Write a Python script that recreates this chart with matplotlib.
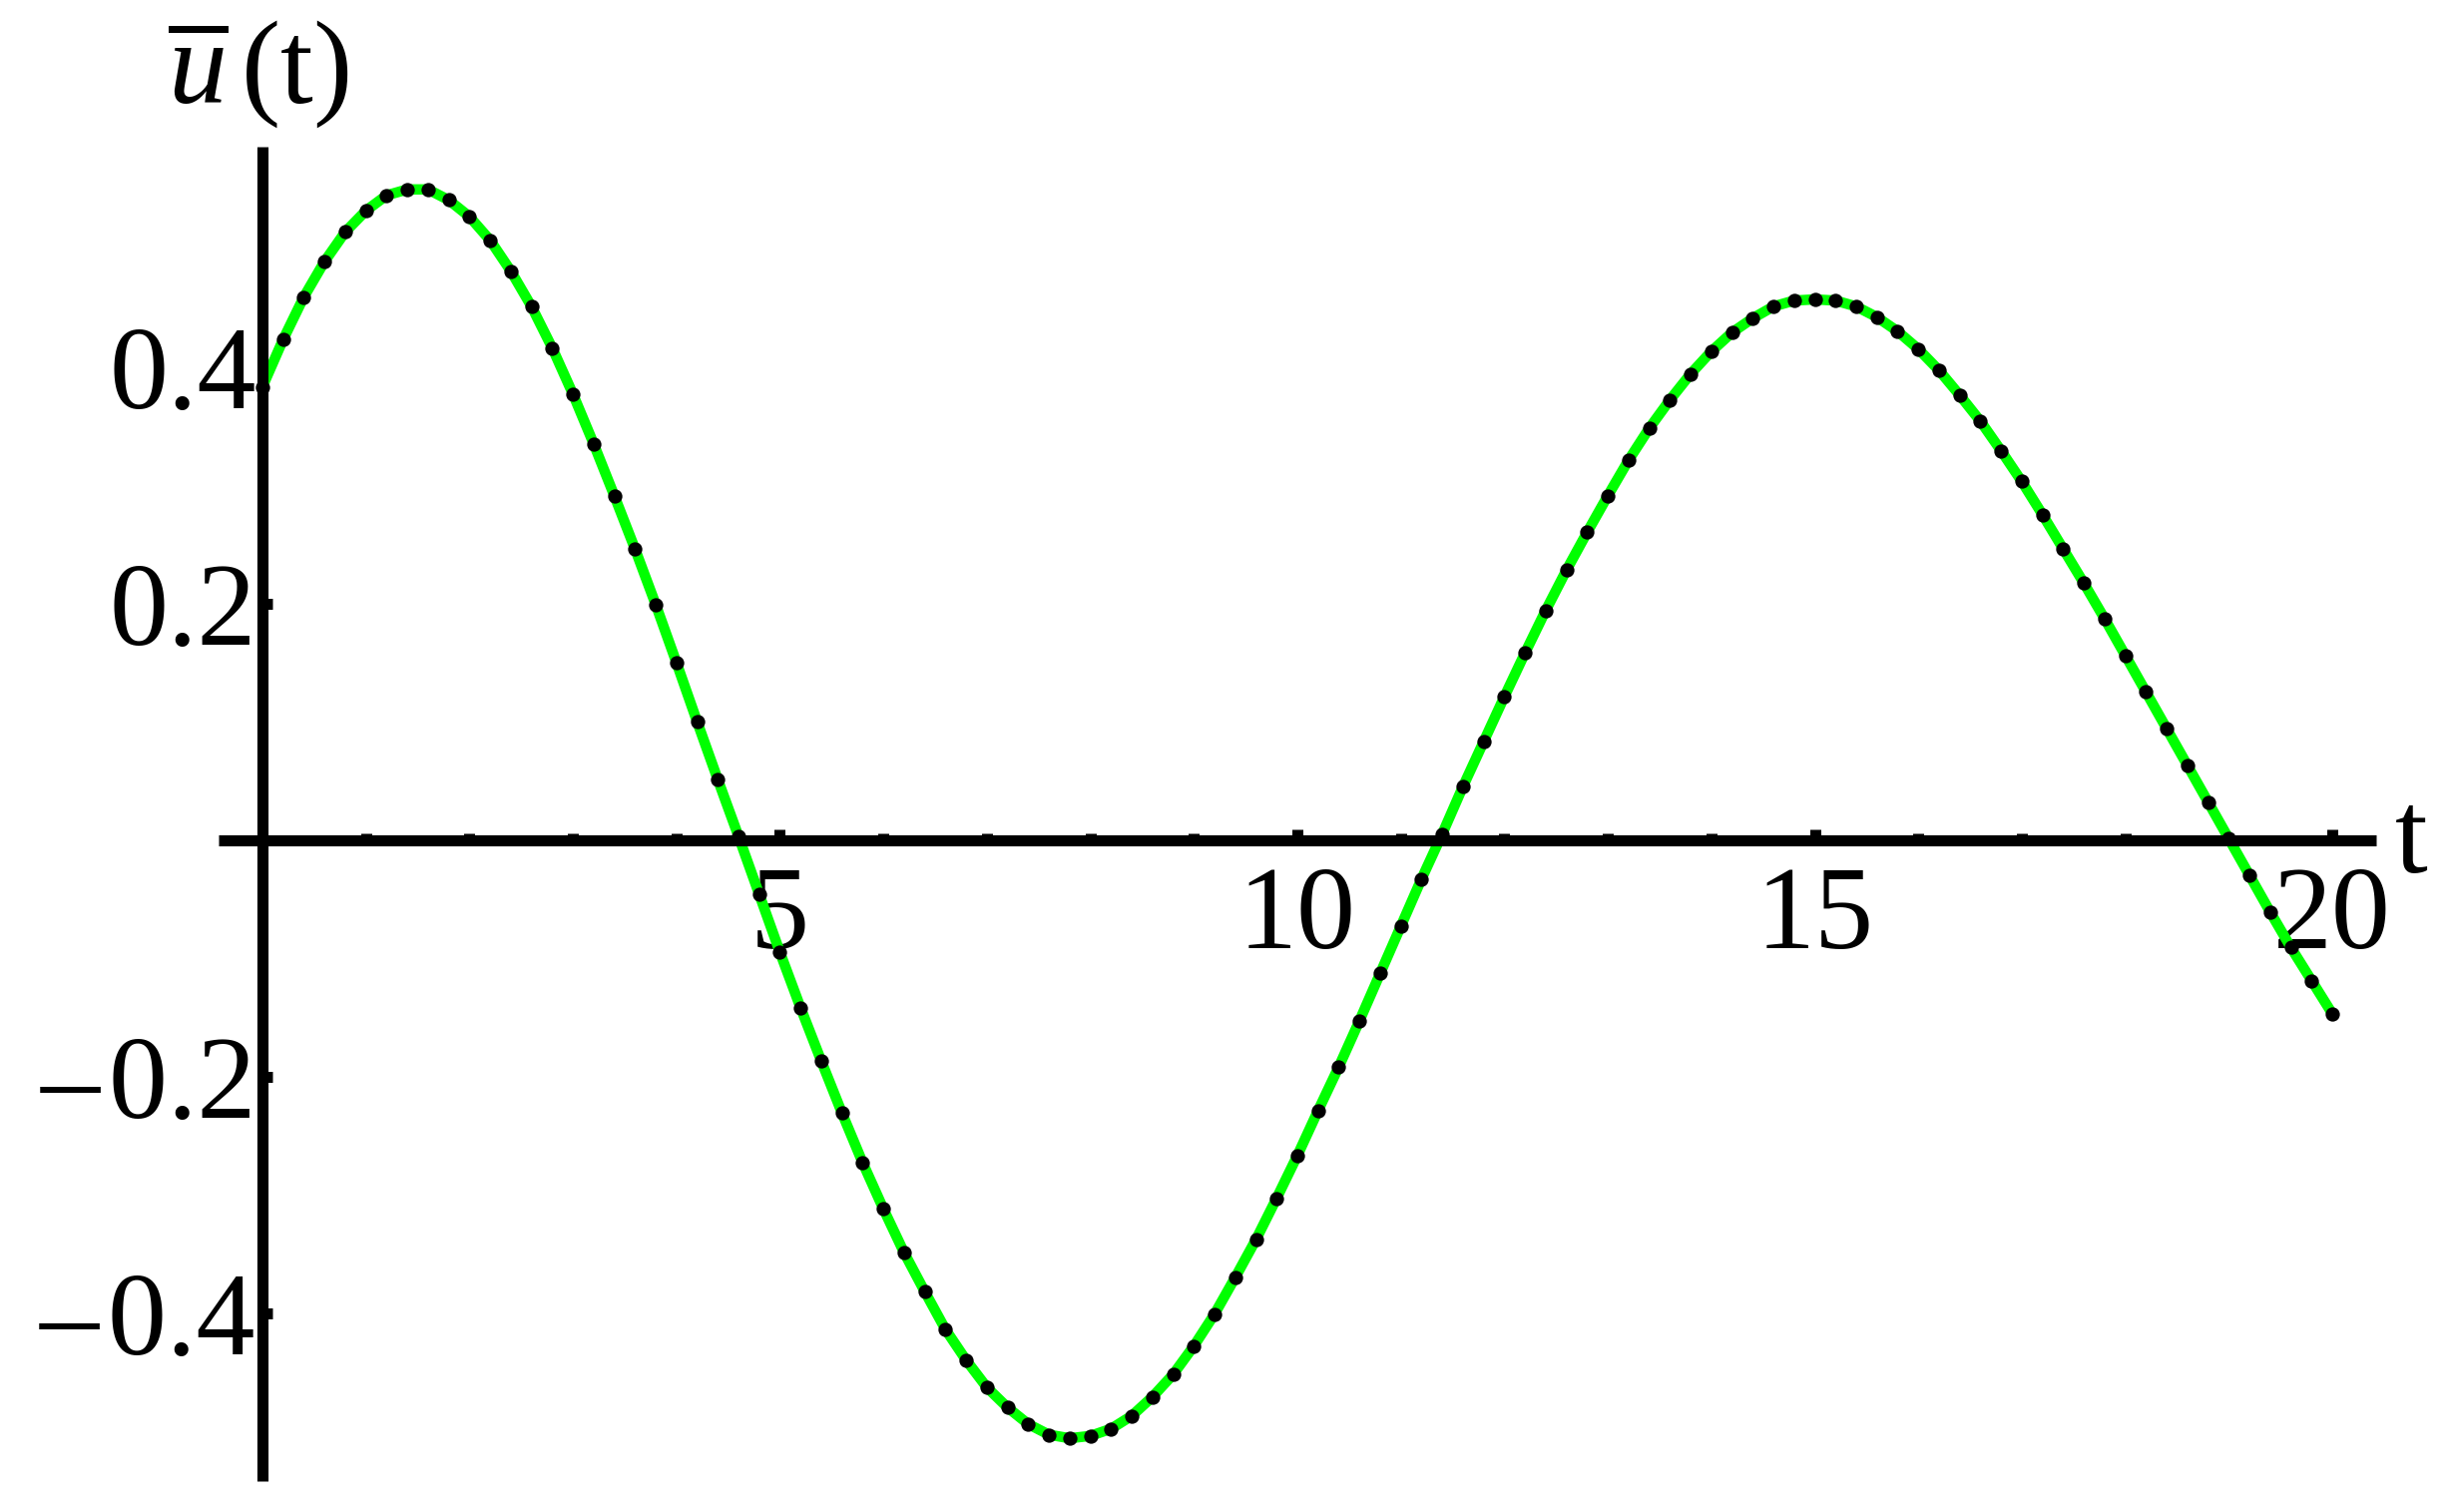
import matplotlib
matplotlib.use('Agg')
import matplotlib.pyplot as plt
from matplotlib.ticker import FixedLocator, MultipleLocator, NullFormatter
import numpy as np

plt.rcParams['font.family'] = 'Liberation Serif'
plt.rcParams['mathtext.fontset'] = 'custom'
plt.rcParams['mathtext.rm'] = 'Liberation Serif'
plt.rcParams['mathtext.it'] = 'Liberation Serif:italic'

# u(t), one value per dot (t = 0, 0.2, ..., 20)
u_values = [
    0.383, 0.423, 0.459, 0.489, 0.514, 0.532, 0.545, 0.550, 0.550, 0.541,
    0.527, 0.507, 0.481, 0.451, 0.416, 0.377, 0.335, 0.291, 0.246, 0.199,
    0.150, 0.100, 0.051, 0.003, -0.046, -0.095, -0.142, -0.187, -0.231, -0.273,
    -0.312, -0.349, -0.382, -0.414, -0.440, -0.463, -0.480, -0.494, -0.503, -0.506,
    -0.504, -0.498, -0.487, -0.471, -0.452, -0.428, -0.401, -0.370, -0.338, -0.303,
    -0.267, -0.229, -0.192, -0.153, -0.113, -0.073, -0.033, 0.005, 0.045, 0.083,
    0.121, 0.158, 0.194, 0.228, 0.260, 0.291, 0.321, 0.348, 0.372, 0.394,
    0.413, 0.429, 0.441, 0.451, 0.456, 0.457, 0.456, 0.451, 0.442, 0.430,
    0.415, 0.397, 0.376, 0.354, 0.329, 0.303, 0.275, 0.246, 0.217, 0.187,
    0.156, 0.125, 0.094, 0.063, 0.032, 0.001, -0.030, -0.061, -0.091, -0.119,
    -0.147,
]
t_values = np.linspace(0, 20, len(u_values))

xticks = [5, 10, 15, 20]
xtick_labels = ['5', '10', '15', '20']
yticks = [-0.4, -0.2, 0.2, 0.4]
ytick_labels = ['\u2013\u200a0.4', '\u2013\u200a0.2', '0.2', '0.4']

fig = plt.figure(figsize=(24.62, 15.15), dpi=100)
ax = fig.add_axes([0.08895, 0.02046, 0.87815, 0.88251])

ax.plot(t_values, u_values, color='#00ff00', lw=7.5, solid_capstyle='butt', zorder=2)
ax.plot(t_values, u_values, ls='none', marker='o', ms=10.3, mew=0, color='black', zorder=3)

ax.set_xlim(-0.424, 20.424)
ax.set_ylim(-0.5422, 0.5861)

for side in ['top', 'right']:
    ax.spines[side].set_visible(False)
for side in ['left', 'bottom']:
    ax.spines[side].set_position(('data', 0))
    ax.spines[side].set_linewidth(8.0)
    ax.spines[side].set_capstyle('butt')

ax.xaxis.set_major_locator(FixedLocator(xticks))
ax.set_xticklabels(xtick_labels)
ax.xaxis.set_minor_locator(MultipleLocator(1))
ax.xaxis.set_minor_formatter(NullFormatter())
ax.yaxis.set_major_locator(FixedLocator(yticks))
ax.set_yticklabels(ytick_labels)

ax.tick_params(axis='x', which='major', direction='in', length=7.6, width=7.9, pad=19, labelsize=85)
ax.tick_params(axis='x', which='minor', direction='in', length=5.0, width=7.9)
ax.tick_params(axis='y', which='major', direction='in', length=7.0, width=7.9, pad=4.5, labelsize=85)

ax.annotate('t', xy=(1, 0), xycoords=('axes fraction', 'data'), xytext=(19, -4),
            textcoords='offset pixels', ha='left', va='center', fontsize=85)
ax.annotate(r'$\overline{u}\,$(t)', xy=(0, 1), xycoords=('data', 'axes fraction'), xytext=(-4, 17),
            textcoords='offset pixels', ha='center', va='bottom', fontsize=85)

fig.savefig('out.png', dpi=100, facecolor='white')
